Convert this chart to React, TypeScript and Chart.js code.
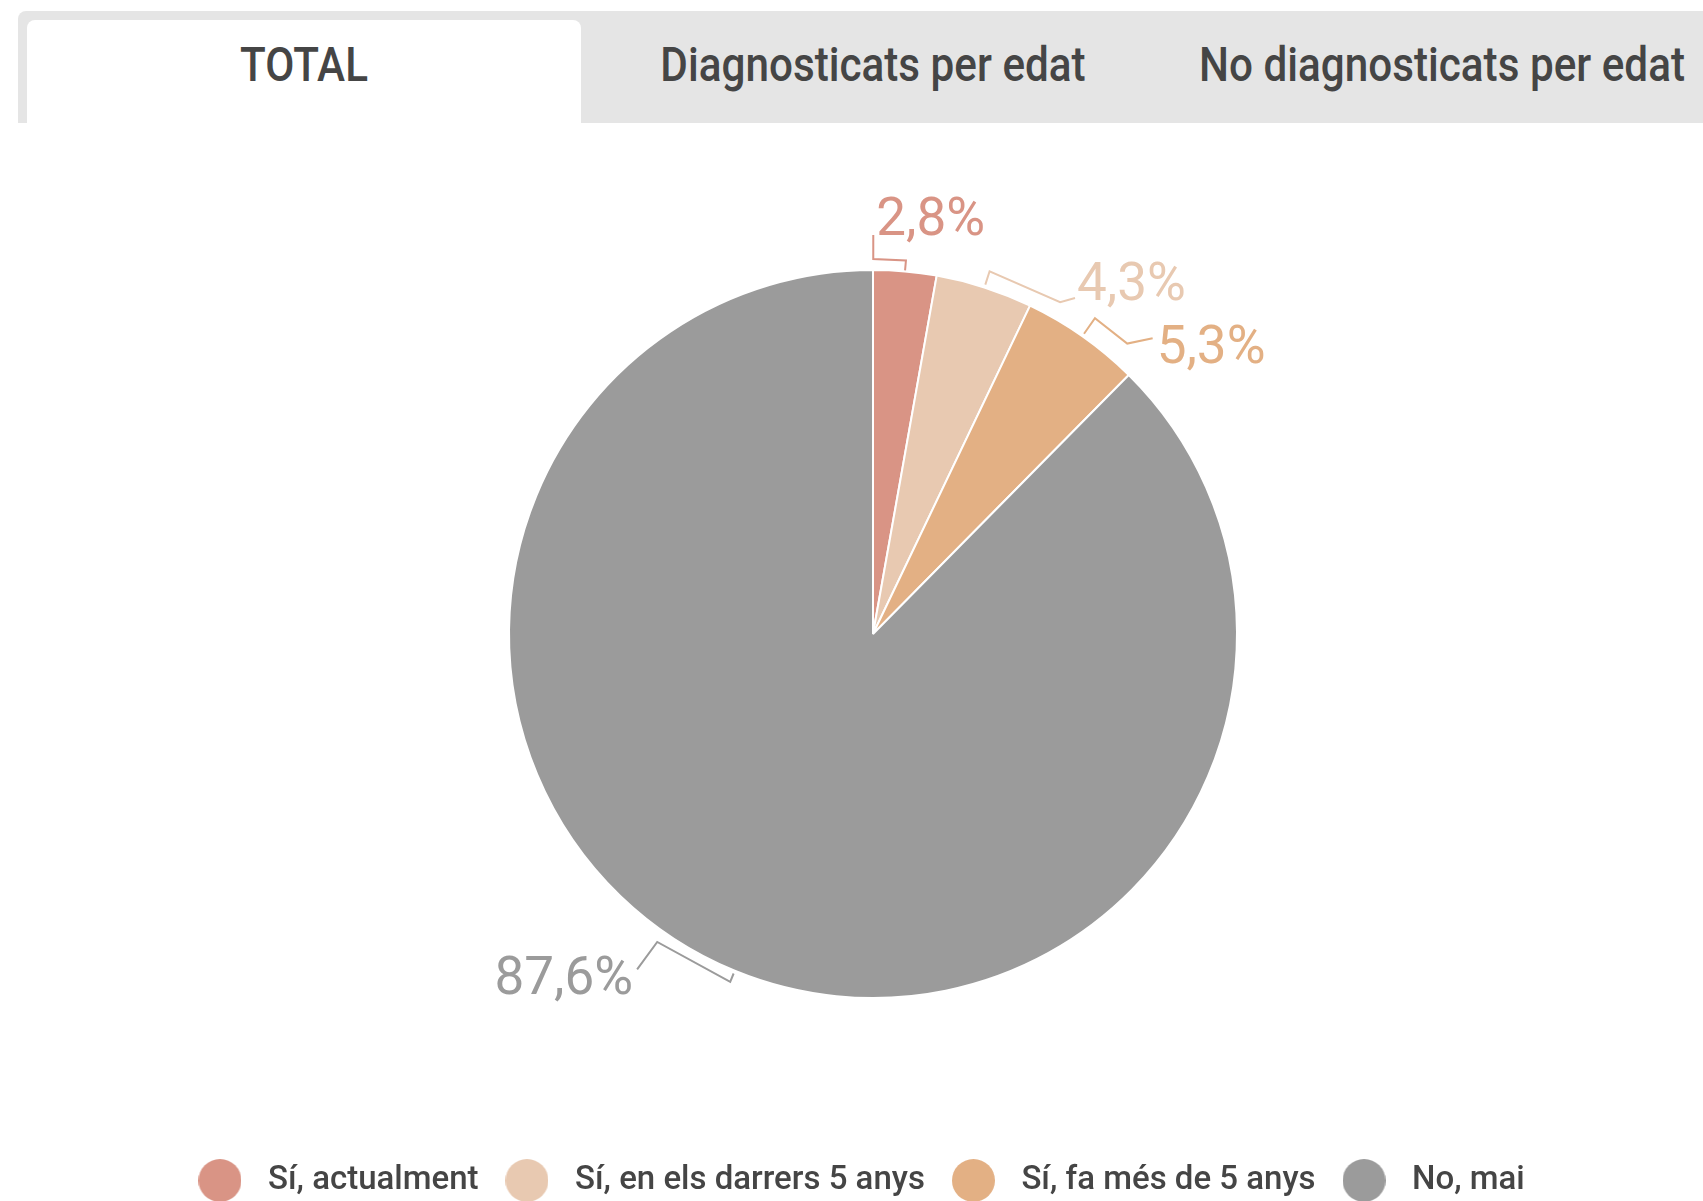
import React, { useEffect, useRef } from 'react';
import { Chart, registerables } from 'chart.js';

Chart.register(...registerables);

// ---- data ----
const categories = ['Sí, actualment', 'Sí, en els darrers 5 anys', 'Sí, fa més de 5 anys', 'No, mai'];
const values = [2.8, 4.3, 5.3, 87.6];
const tabLabels = ['TOTAL', 'Diagnosticats per edat', 'No diagnosticats per edat'];

// ---- style ----
const sliceColors = ['#d99485', '#e8c9b1', '#e3b084', '#9b9b9b'];
const textDark = '#454545';

// leader-line geometry per slice (radial offsets in px, angle offsets in degrees relative to slice middle)
const leaderStyle = [
  { r0: 1, r1: 11, a2: -5.0, a3: -5.0, r3: 35, dx: 3, dy: 0, align: 'left' },
  { r0: 3, r1: 17, a2: 11.6, a3: 13.2, r3: 28, dx: 2, dy: 2, align: 'left' },
  { r0: 3, r1: 22, a2: 6.1, a3: 8.3, r3: 43, dx: 4, dy: 25, align: 'left' },
  { r0: 3, r1: 12, a2: 12.7, a3: 12.8, r3: 46, dx: -4, dy: 25, align: 'right' },
];

const tabCenters = [304, 873, 1442];

const fmt = (v: number) => v.toFixed(1).replace('.', ',') + '%';

const pieLabels = {
  id: 'pieLabels',
  afterDatasetsDraw(chart: any) {
    const ctx = chart.ctx;
    const meta = chart.getDatasetMeta(0);
    const d2r = Math.PI / 180;
    meta.data.forEach((arc: any, i: number) => {
      const { x, y, startAngle, endAngle, outerRadius } = arc.getProps(
        ['x', 'y', 'startAngle', 'endAngle', 'outerRadius'],
        true
      );
      const s = leaderStyle[i];
      const mid = (startAngle + endAngle) / 2;
      const R = outerRadius;
      const pt = (a: number, r: number) => [x + r * Math.cos(a), y + r * Math.sin(a)];
      const p0 = pt(mid, R + s.r0);
      const p1 = pt(mid, R + s.r1);
      const p2 = pt(mid + s.a2 * d2r, R + s.r1);
      const p3 = pt(mid + s.a3 * d2r, R + s.r3);
      ctx.save();
      ctx.strokeStyle = sliceColors[i];
      ctx.lineWidth = 2;
      ctx.lineJoin = 'miter';
      ctx.beginPath();
      ctx.moveTo(p0[0], p0[1]);
      ctx.lineTo(p1[0], p1[1]);
      ctx.lineTo(p2[0], p2[1]);
      ctx.lineTo(p3[0], p3[1]);
      ctx.stroke();
      ctx.fillStyle = sliceColors[i];
      ctx.font = '400 53px Roboto';
      ctx.textAlign = s.align;
      ctx.textBaseline = 'alphabetic';
      ctx.fillText(fmt(values[i]), p3[0] + s.dx, p3[1] + s.dy);
      ctx.restore();
    });
  },
};

const makeDot = (color: string) => {
  const c = document.createElement('canvas');
  c.width = 43;
  c.height = 43;
  const g = c.getContext('2d')!;
  g.fillStyle = color;
  g.beginPath();
  g.arc(21.5, 21.5, 21.5, 0, Math.PI * 2);
  g.fill();
  return c;
};

export default function App() {
  const ref = useRef<HTMLCanvasElement>(null);

  useEffect(() => {
    let chart: Chart | null = null;
    let cancelled = false;
    const build = () => {
      if (cancelled || !ref.current) return;
      Chart.defaults.font.family = 'Roboto';
      const dots = sliceColors.map(makeDot);
      chart = new Chart(ref.current, {
        type: 'pie',
        data: {
          labels: categories,
          datasets: [
            {
              data: values,
              backgroundColor: sliceColors,
              borderColor: '#ffffff',
              borderWidth: 2,
            },
          ],
        },
        options: {
          responsive: false,
          animation: false,
          devicePixelRatio: 1,
          layout: { padding: { left: 43, right: 0, top: 146, bottom: 0 } },
          plugins: {
            tooltip: { enabled: false },
            legend: {
              position: 'bottom',
              title: { display: true, text: '', font: { size: 10 }, padding: { top: 136, bottom: 0 } },
              labels: {
                usePointStyle: true,
                pointStyleWidth: 63,
                boxHeight: 33,
                padding: 17,
                color: textDark,
                font: { size: 33, weight: '500', family: 'Roboto' },
                generateLabels: () =>
                  categories.map((t, i) => ({
                    // trailing no-break spaces on the last item nudge the centred row to the left
                    text: i === categories.length - 1 ? t + '\u00a0\u00a0\u00a0\u00a0' : t,
                    fillStyle: sliceColors[i],
                    strokeStyle: sliceColors[i],
                    lineWidth: 0,
                    pointStyle: dots[i],
                    fontColor: textDark,
                    hidden: false,
                    index: i,
                  })),
              },
            },
          },
        } as any,
        plugins: [pieLabels],
      });
    };
    const fontsReady = (document as any).fonts
      ? Promise.all([
          (document as any).fonts.load('400 53px Roboto'),
          (document as any).fonts.load('500 33px Roboto'),
        ])
      : Promise.resolve();
    fontsReady.catch(() => {}).then(build);
    return () => {
      cancelled = true;
      if (chart) chart.destroy();
    };
  }, []);

  return (
    <div
      style={{
        position: 'absolute',
        left: 0,
        top: 0,
        width: 1703,
        height: 1201,
        overflow: 'hidden',
        background: '#ffffff',
        fontFamily: 'Roboto, sans-serif',
      }}
    >
      <div
        style={{
          position: 'absolute',
          left: 18,
          top: 11,
          width: 1685,
          height: 112,
          background: '#e5e5e5',
          borderTopLeftRadius: 8,
        }}
      />
      <div
        style={{
          position: 'absolute',
          left: 27,
          top: 20,
          width: 554,
          height: 103,
          background: '#ffffff',
          borderTopLeftRadius: 8,
          borderTopRightRadius: 8,
        }}
      />
      {tabLabels.map((t, i) => (
        <span
          key={t}
          style={{
            position: 'absolute',
            left: tabCenters[i],
            top: 65,
            transform: 'translate(-50%, -50%) scaleX(0.88)',
            whiteSpace: 'nowrap',
            fontSize: 48,
            fontWeight: 500,
            color: textDark,
            lineHeight: 1,
          }}
        >
          {t}
        </span>
      ))}
      <canvas
        ref={ref}
        width={1703}
        height={1084}
        style={{ position: 'absolute', left: 0, top: 123, width: 1703, height: 1084 }}
      />
    </div>
  );
}
